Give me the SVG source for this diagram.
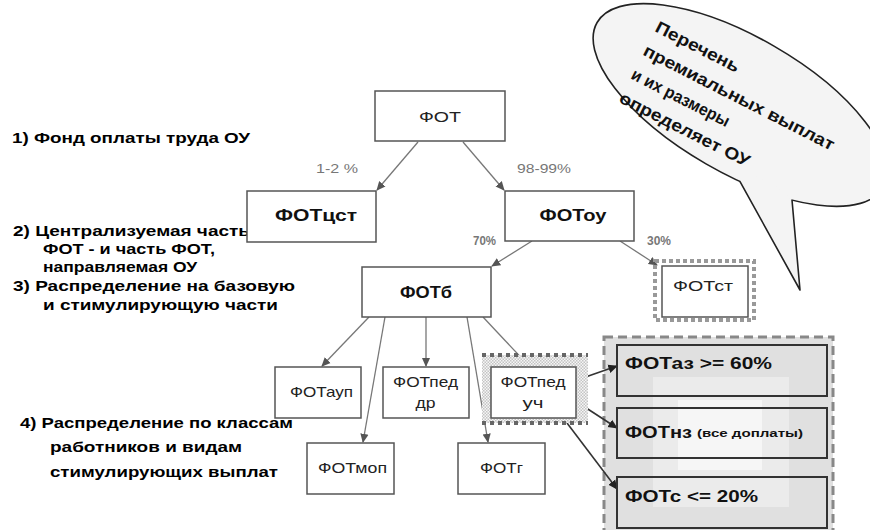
<svg xmlns="http://www.w3.org/2000/svg" width="870" height="530" viewBox="0 0 870 530">
<defs>
<marker id="ah" viewBox="0 0 10 10" refX="9" refY="5" markerWidth="7" markerHeight="7" orient="auto"><path d="M0,0.5 L10,5 L0,9.5 z" fill="#555"/></marker>
<marker id="ahd" viewBox="0 0 10 10" refX="9" refY="5" markerWidth="6" markerHeight="6" orient="auto"><path d="M0,0.5 L10,5 L0,9.5 z" fill="#222"/></marker>
<pattern id="chk" width="3" height="3" patternUnits="userSpaceOnUse"><rect width="3" height="3" fill="#f6f6f6"/><rect width="1.5" height="1.5" fill="#c4c4c4"/><rect x="1.5" y="1.5" width="1.5" height="1.5" fill="#c4c4c4"/></pattern>
</defs>
<style>
text{font-family:"Liberation Sans",Arial,sans-serif}
.lbl{font-weight:bold;font-size:14px;fill:#000}
.box{fill:#fff;stroke:#555;stroke-width:1.5}
.nt{font-size:15px;fill:#222;text-anchor:middle}
.bt{font-size:17px;font-weight:bold;fill:#111;text-anchor:middle}
.rt{font-size:17px;font-weight:bold;fill:#111}
.pct{font-size:12px;fill:#777}
.pctb{font-size:12px;fill:#777;font-weight:bold}
.rbox{fill:none;stroke:#333;stroke-width:2}
#connectors line{stroke:#777;stroke-width:1.3;marker-end:url(#ah)}
#connectors line.dk{stroke:#333;stroke-width:1.6;marker-end:url(#ahd)}
.bub{font-size:17px;font-weight:bold;fill:#111}
</style>
<rect width="870" height="530" fill="#fff"/>

<g id="bubble">
<ellipse cx="0" cy="0" rx="165" ry="68" transform="translate(740,105) rotate(30)" fill="#f4f4f4" stroke="#222" stroke-width="1.6"/>
<polygon points="739.9,181.4 800,290 792,200 775,185 755,176" fill="#f4f4f4"/>
<polyline points="739.9,181.4 800,290 792,200" fill="none" stroke="#222" stroke-width="1.6" stroke-linejoin="round"/>
<g transform="translate(654,31) rotate(27)">
<text class="bub" x="0" y="0" textLength="92" lengthAdjust="spacingAndGlyphs">Перечень</text>
<text class="bub" x="0" y="26.5" textLength="212" lengthAdjust="spacingAndGlyphs">премиальных выплат</text>
<text class="bub" x="0" y="53" textLength="108" lengthAdjust="spacingAndGlyphs">и их размеры</text>
<text class="bub" x="0" y="79.5" textLength="144" lengthAdjust="spacingAndGlyphs">определяет ОУ</text>
</g>
</g>

<g id="left-labels">
<text class="lbl" x="12" y="143" textLength="238" lengthAdjust="spacingAndGlyphs">1) Фонд оплаты труда ОУ</text>
<text class="lbl" x="13" y="236" textLength="237" lengthAdjust="spacingAndGlyphs">2) Централизуемая часть</text>
<text class="lbl" x="43" y="254" textLength="172" lengthAdjust="spacingAndGlyphs">ФОТ - и часть ФОТ,</text>
<text class="lbl" x="43" y="272" textLength="154" lengthAdjust="spacingAndGlyphs">направляемая ОУ</text>
<text class="lbl" x="13" y="291" textLength="282" lengthAdjust="spacingAndGlyphs">3) Распределение на базовую</text>
<text class="lbl" x="43" y="310" textLength="235" lengthAdjust="spacingAndGlyphs">и стимулирующую части</text>
<text class="lbl" x="20" y="428" textLength="273" lengthAdjust="spacingAndGlyphs">4) Распределение по классам</text>
<text class="lbl" x="50" y="452" textLength="192" lengthAdjust="spacingAndGlyphs">работников и видам</text>
<text class="lbl" x="50" y="477" textLength="228" lengthAdjust="spacingAndGlyphs">стимулирующих выплат</text>
</g>

<g id="container">
<rect x="604" y="337" width="229" height="200" fill="#e0e0e0"/>
<rect x="653" y="377" width="136" height="130" fill="#ebebeb"/>
<rect x="678" y="400" width="84" height="70" fill="#f6f6f6"/>
<rect x="604" y="337" width="229" height="200" fill="none" stroke="#888" stroke-width="3" stroke-dasharray="9,5"/>
</g>

<g id="connectors">
<line x1="418" y1="142" x2="377" y2="190"/>
<line x1="463" y1="142" x2="504" y2="190"/>
<line x1="532" y1="241" x2="492" y2="266"/>
<line x1="620" y1="241" x2="657" y2="265"/>
<line x1="369" y1="317" x2="322" y2="366"/>
<line x1="385" y1="317" x2="363" y2="442"/>
<line x1="426" y1="317" x2="426" y2="366"/>
<line x1="467" y1="317" x2="488" y2="442"/>
<line x1="483" y1="317" x2="529" y2="366"/>
<line class="dk" x1="577" y1="380" x2="617" y2="366"/>
<line class="dk" x1="577" y1="402" x2="617" y2="428"/>
<line class="dk" x1="567" y1="423" x2="617" y2="489"/>
</g>

<g id="n-fot"><rect class="box" x="375" y="91" width="130" height="50"/><text class="nt" x="440" y="122" font-size="16" textLength="42" lengthAdjust="spacingAndGlyphs">ФОТ</text></g>
<g id="n-fotcst"><rect class="box" x="247" y="191" width="129" height="51"/><text class="bt" x="316" y="221" textLength="82" lengthAdjust="spacingAndGlyphs">ФОТцст</text></g>
<g id="n-fotou"><rect class="box" x="505" y="191" width="129" height="50"/><text class="bt" x="573" y="221" textLength="67" lengthAdjust="spacingAndGlyphs">ФОТоу</text></g>
<g id="n-pct">
<text class="pct" x="316" y="173" textLength="42" lengthAdjust="spacingAndGlyphs">1-2 %</text>
<text class="pct" x="517" y="173" textLength="54" lengthAdjust="spacingAndGlyphs">98-99%</text>
<text class="pctb" x="473" y="245" textLength="23" lengthAdjust="spacingAndGlyphs">70%</text>
<text class="pctb" x="647" y="245" textLength="24" lengthAdjust="spacingAndGlyphs">30%</text>
</g>
<g id="n-fotb"><rect class="box" x="362" y="267" width="129" height="50"/><text class="bt" x="426" y="298" textLength="52" lengthAdjust="spacingAndGlyphs">ФОТб</text></g>
<g id="n-fotst">
<rect x="655" y="261" width="99" height="59" fill="none" stroke="#999" stroke-width="4" stroke-dasharray="4,3"/>
<rect class="box" x="662" y="266" width="86" height="51"/>
<text class="nt" x="703" y="291" font-size="16" fill="#111" textLength="60" lengthAdjust="spacingAndGlyphs">ФОТст</text>
</g>
<g id="n-fotaup"><rect class="box" x="275" y="367" width="86" height="51"/><text class="nt" x="321.5" y="397" textLength="63" lengthAdjust="spacingAndGlyphs">ФОТауп</text></g>
<g id="n-fotpeddr"><rect class="box" x="383" y="367" width="86" height="51"/><text class="nt" x="425.5" y="387" textLength="65" lengthAdjust="spacingAndGlyphs">ФОТпед</text><text class="nt" x="425.5" y="408" textLength="20" lengthAdjust="spacingAndGlyphs">др</text></g>
<g id="n-fotpeduch">
<rect x="482" y="355" width="106" height="68" fill="url(#chk)"/>
<line x1="482" y1="355" x2="588" y2="355" stroke="#666" stroke-width="4" stroke-dasharray="4,4"/>
<line x1="482" y1="423" x2="588" y2="423" stroke="#666" stroke-width="4" stroke-dasharray="4,4"/>
<rect class="box" x="491" y="367" width="85" height="51"/>
<text class="nt" x="533" y="387" textLength="65" lengthAdjust="spacingAndGlyphs">ФОТпед</text><text class="nt" x="533" y="408" textLength="21" lengthAdjust="spacingAndGlyphs">уч</text>
</g>
<g id="n-fotmop"><rect class="box" x="307" y="443" width="87" height="51"/><text class="nt" x="352.5" y="473" textLength="69" lengthAdjust="spacingAndGlyphs">ФОТмоп</text></g>
<g id="n-fotg"><rect class="box" x="458" y="443" width="87" height="51"/><text class="nt" x="501.5" y="473" textLength="43" lengthAdjust="spacingAndGlyphs">ФОТг</text></g>

<g id="n-fotaz"><rect class="rbox" x="617" y="345" width="210" height="51"/><text class="rt" x="625" y="369" textLength="147" lengthAdjust="spacingAndGlyphs">ФОТаз &gt;= 60%</text></g>
<g id="n-fotnz"><rect class="rbox" x="617" y="408" width="210" height="50"/><text class="rt" x="625" y="438" textLength="67" lengthAdjust="spacingAndGlyphs">ФОТнз</text><text x="697" y="437" font-size="10" font-weight="bold" fill="#111" textLength="106" lengthAdjust="spacingAndGlyphs">(все доплаты)</text></g>
<g id="n-fotc"><rect class="rbox" x="617" y="477" width="210" height="51"/><text class="rt" x="625" y="502" textLength="133" lengthAdjust="spacingAndGlyphs">ФОТс &lt;= 20%</text></g>
</svg>
